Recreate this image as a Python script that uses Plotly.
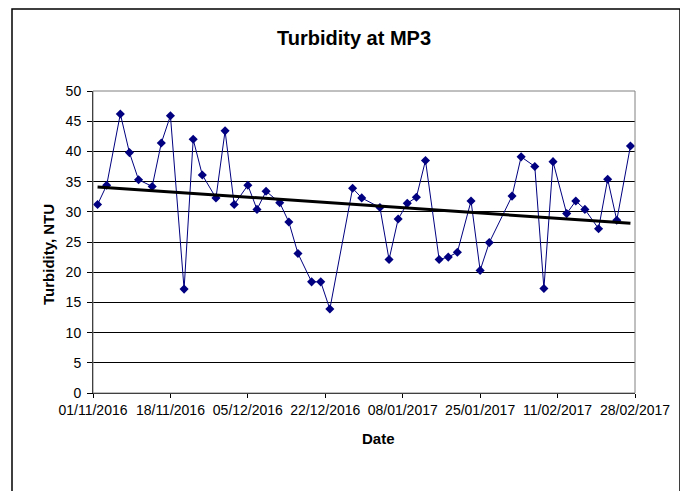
import numpy as np
import pandas as pd
import plotly.graph_objects as go

start = pd.Timestamp("2016-11-01")
day_offsets = [1, 3, 6, 8, 10, 13, 15, 17, 20, 22, 24, 27, 29, 31, 34, 36, 38, 41, 43, 45,
               48, 50, 52, 57, 59, 63, 65, 67, 69, 71, 73, 76, 78, 80, 83, 85, 87, 92, 94,
               97, 99, 101, 104, 106, 108, 111, 113, 115, 118]
turbidity = [31.2, 34.4, 46.2, 39.8, 35.3, 34.2, 41.4, 45.9, 17.2, 42.0, 36.1, 32.3, 43.4,
             31.2, 34.4, 30.4, 33.4, 31.5, 28.3, 23.1, 18.4, 18.4, 13.9, 33.9, 32.3, 30.7,
             22.1, 28.8, 31.4, 32.4, 38.5, 22.1, 22.5, 23.3, 31.8, 20.3, 24.9, 32.6, 39.1,
             37.5, 17.3, 38.3, 29.7, 31.8, 30.4, 27.2, 35.4, 28.6, 40.9]
tick_offsets = [0, 17, 34, 51, 68, 85, 102, 119]
tick_labels = ["01/11/2016", "18/11/2016", "05/12/2016", "22/12/2016",
               "08/01/2017", "25/01/2017", "11/02/2017", "28/02/2017"]

dates = [start + pd.Timedelta(days=d) for d in day_offsets]
tick_dates = [start + pd.Timedelta(days=d) for d in tick_offsets]

# linear trend line (least squares)
slope, intercept = np.polyfit(day_offsets, turbidity, 1)
trend_days = [day_offsets[0], day_offsets[-1]]
trend_vals = [slope * d + intercept for d in trend_days]
trend_dates = [start + pd.Timedelta(days=d) for d in trend_days]

fig = go.Figure()
fig.add_trace(go.Scatter(
    x=dates, y=turbidity, mode="lines+markers",
    line=dict(color="#000080", width=1),
    marker=dict(symbol="diamond", size=7, color="#000080"),
    showlegend=False))
fig.add_trace(go.Scatter(
    x=trend_dates, y=trend_vals, mode="lines",
    line=dict(color="black", width=3), showlegend=False))

OFF = 8  # page body margin
L, T = 93 - OFF, 91 - OFF
W, H = 688, 491
pw, ph = 542, 302
R, B = W - L - pw, H - T - ph

def px_x(x):
    return (x - OFF - L) / pw

def px_y(y):
    return (T + ph - (y - OFF)) / ph

fig.update_layout(
    width=W, height=H,
    margin=dict(l=L, r=R, t=T, b=B, autoexpand=False),
    paper_bgcolor="white", plot_bgcolor="white",
    font=dict(family="Liberation Sans, Arial", size=13, color="black"),
    title=dict(text="<b>Turbidity at MP3</b>", x=(354 - OFF) / W, xanchor="center",
               y=1 - (38 - OFF) / H, yanchor="middle", font=dict(size=20)),
    xaxis=dict(
        type="date",
        range=[start, start + pd.Timedelta(days=119)],
        tickvals=tick_dates, ticktext=tick_labels,
        ticks="outside", ticklen=4, tickcolor="black",
        showline=True, linecolor="black", linewidth=1, mirror=False,
        showgrid=False, zeroline=False, automargin=False,
        tickfont=dict(size=14)),
    yaxis=dict(
        range=[0, 50], tickvals=list(range(0, 51, 5)),
        ticks="outside", ticklen=5, tickcolor="black",
        showline=True, linecolor="black", linewidth=1,
        showgrid=True, gridcolor="black", gridwidth=1,
        zeroline=False, automargin=False, tickfont=dict(size=14),
        ticklabelstandoff=3),
    annotations=[
        dict(text="<b>Turbidity, NTU</b>", textangle=-90, xref="paper", yref="paper",
             x=px_x(48), y=px_y(255), xanchor="center", yanchor="middle",
             showarrow=False, font=dict(size=15)),
        dict(text="<b>Date</b>", xref="paper", yref="paper",
             x=px_x(378), y=px_y(438), xanchor="center", yanchor="middle",
             showarrow=False, font=dict(size=15)),
    ],
    shapes=[
        dict(type="rect", xref="paper", yref="paper",
             x0=0, x1=1, y0=0, y1=1, line=dict(color="#808080", width=1)),
        dict(type="rect", xref="paper", yref="paper",
             x0=px_x(12), x1=px_x(680), y0=px_y(520), y1=px_y(9),
             line=dict(color="black", width=1.5)),
    ],
)

fig.write_html("out.html")
